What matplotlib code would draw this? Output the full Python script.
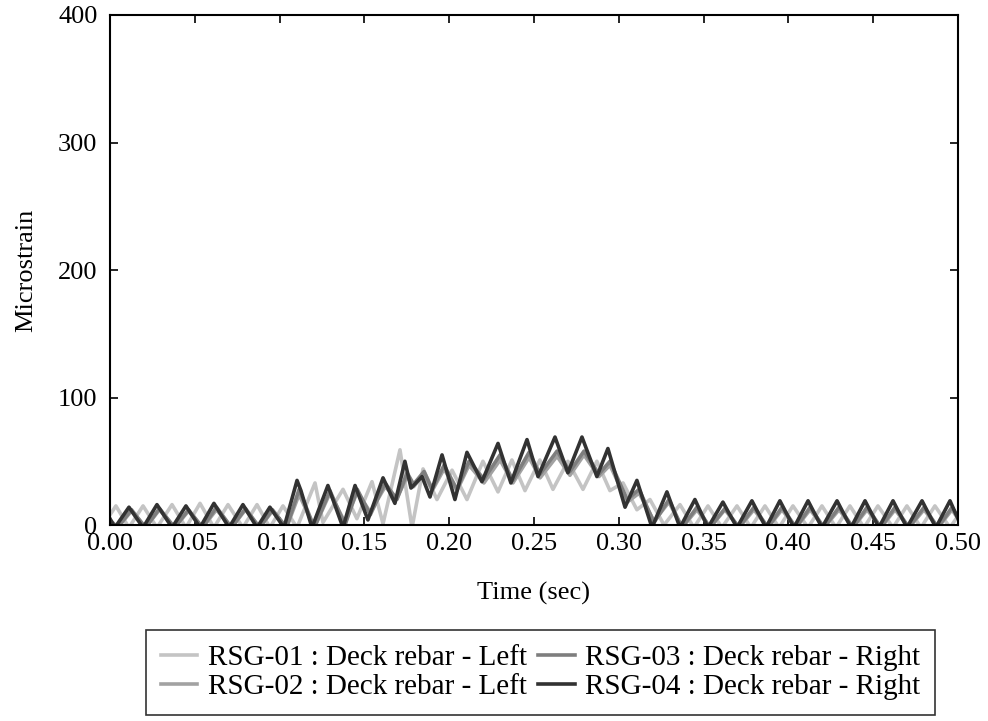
import matplotlib
matplotlib.use("Agg")
import matplotlib.pyplot as plt

plt.rcParams['font.family'] = ['Liberation Serif', 'DejaVu Serif']

# Strain gauge readings (time in sec, microstrain)
t_rsg01 = [0.0, 0.0035, 0.0112, 0.0195, 0.0277, 0.0366, 0.0448, 0.0531, 0.0613, 0.0696,
           0.0784, 0.0867, 0.0943, 0.1020, 0.1103, 0.1209, 0.1256, 0.1374, 0.1456, 0.1545,
           0.1610, 0.1710, 0.1781, 0.1846, 0.1928, 0.2017, 0.2105, 0.2199, 0.2288, 0.2370,
           0.2447, 0.2535, 0.2612, 0.2700, 0.2789, 0.2871, 0.2948, 0.3025, 0.3107, 0.3184,
           0.3267, 0.3361, 0.3443, 0.3526, 0.3608, 0.3697, 0.3779, 0.3862, 0.3945, 0.4027,
           0.4116, 0.4198, 0.4281, 0.4363, 0.4446, 0.4528, 0.4617, 0.4699, 0.4782, 0.4864,
           0.4953, 0.5]
y_rsg01 = [8, 15, -2, 15, -2, 16, -2, 17, -2, 16,
           -2, 16, -2, 15, -2, 33, 2, 28, 5, 34,
           1, 59, -2, 44, 20, 43, 20, 50, 26, 51,
           27, 51, 28, 50, 28, 50, 27, 33, 12, 20,
           0, 16, -2, 15, -2, 15, -2, 15, -2, 15,
           -2, 15, -2, 15, -2, 15, -2, 15, -2, 15,
           -2, 7]

# RSG-02 and RSG-03 share the same sample times
t_right = [0.0, 0.0045, 0.0127, 0.0210, 0.0292, 0.0381, 0.0463, 0.0546, 0.0628, 0.0717,
           0.0799, 0.0882, 0.0958, 0.1041, 0.1115, 0.1205, 0.1297, 0.1386, 0.1458, 0.1535,
           0.1622, 0.1692, 0.1752, 0.1790, 0.1852, 0.1900, 0.1970, 0.2046, 0.2117, 0.2205,
           0.2300, 0.2376, 0.2471, 0.2536, 0.2636, 0.2712, 0.2795, 0.2883, 0.2948, 0.3050,
           0.3120, 0.3208, 0.3296, 0.3373, 0.3461, 0.3538, 0.3626, 0.3709, 0.3797, 0.3880,
           0.3962, 0.4045, 0.4128, 0.4210, 0.4299, 0.4381, 0.4464, 0.4546, 0.4629, 0.4711,
           0.4800, 0.4882, 0.4965, 0.5]
y_rsg02 = [3, -2, 11, -2, 12, -2, 11, -2, 12, -2,
           12, -2, 11, -2, 24, -2, 25, 2, 26, 10,
           30, 21, 38, 30, 40, 27, 44, 27, 47, 33,
           51, 33, 53, 37, 54, 39, 55, 38, 47, 18,
           25, 3, 18, -2, 12, -2, 12, -2, 12, -2,
           12, -2, 12, -2, 12, -2, 12, -2, 12, -2,
           12, -2, 12, 5]
y_rsg03 = [4, -2, 12, -2, 13, -2, 12, -2, 14, -2,
           13, -2, 12, -2, 28, -2, 27, 0, 28, 8,
           33, 20, 41, 32, 42, 28, 47, 28, 50, 36,
           55, 35, 57, 40, 58, 42, 58, 40, 50, 20,
           28, 2, 20, -2, 14, -2, 13, -2, 14, -2,
           14, -2, 14, -2, 14, -2, 14, -2, 14, -2,
           14, -2, 14, 6]

t_rsg04 = [0.0, 0.0029, 0.0112, 0.0195, 0.0277, 0.0366, 0.0448, 0.0531, 0.0613, 0.0702,
           0.0784, 0.0867, 0.0943, 0.1026, 0.1103, 0.1126, 0.1191, 0.1285, 0.1374, 0.1445,
           0.1521, 0.1610, 0.1680, 0.1739, 0.1775, 0.1840, 0.1887, 0.1958, 0.2034, 0.2105,
           0.2193, 0.2288, 0.2364, 0.2459, 0.2524, 0.2624, 0.2700, 0.2783, 0.2871, 0.2936,
           0.3037, 0.3107, 0.3196, 0.3284, 0.3361, 0.3449, 0.3526, 0.3614, 0.3697, 0.3785,
           0.3868, 0.3950, 0.4033, 0.4116, 0.4198, 0.4287, 0.4369, 0.4452, 0.4534, 0.4617,
           0.4699, 0.4788, 0.4870, 0.4953, 0.5]
y_rsg04 = [5, -2, 14, -2, 16, -2, 15, -2, 17, -2,
           16, -2, 14, -2, 35, 27, -2, 31, -2, 31,
           4, 37, 17, 50, 29, 38, 22, 55, 20, 57,
           34, 64, 33, 67, 38, 69, 41, 69, 38, 60,
           14, 35, -2, 26, -2, 20, -2, 18, -2, 19,
           -2, 19, -2, 19, -2, 19, -2, 19, -2, 19,
           -2, 19, -2, 19, 5]

labels = ["RSG-01 : Deck rebar - Left", "RSG-02 : Deck rebar - Left",
          "RSG-03 : Deck rebar - Right", "RSG-04 : Deck rebar - Right"]
colors = ["#c4c4c4", "#a2a2a2", "#7e7e7e", "#323232"]

x_ticks = [0.00, 0.05, 0.10, 0.15, 0.20, 0.25, 0.30, 0.35, 0.40, 0.45, 0.50]
y_ticks = [0, 100, 200, 300, 400]

fig = plt.figure(figsize=(9.88, 7.21), dpi=100)
ax = fig.add_axes([0.1113, 0.2718, 0.8583, 0.7074])

series = [(t_rsg01, y_rsg01), (t_right, y_rsg02), (t_right, y_rsg03), (t_rsg04, y_rsg04)]
for (t, y), lab, c in zip(series, labels, colors):
    ax.plot(t, y, color=c, lw=2.6, label=lab, solid_joinstyle='round')

ax.set_xlim(0, 0.5)
ax.set_ylim(0, 400)
ax.set_xticks(x_ticks)
ax.set_xticklabels([f"{v:.2f}" for v in x_ticks])
ax.set_yticks(y_ticks)
ax.tick_params(direction='in', top=True, right=True, length=6, width=1.2,
               labelsize=19)
ax.tick_params(axis='x', pad=6)
ax.tick_params(axis='y', pad=9)
for s in ax.spines.values():
    s.set_linewidth(1.5)

ax.set_xlabel("Time (sec)", fontsize=19, labelpad=19)
ax.set_ylabel("Microstrain", fontsize=19, labelpad=15)

leg = fig.legend(loc='upper center', bbox_to_anchor=(0.547, 0.126), ncol=2,
                 fontsize=21, frameon=True, fancybox=False, handlelength=1.25,
                 handletextpad=0.35, columnspacing=0.4, labelspacing=0.1,
                 borderpad=0.5, borderaxespad=0)
leg.get_frame().set_edgecolor('black')
leg.get_frame().set_linewidth(1.2)

fig.savefig("out.png", dpi=100)
